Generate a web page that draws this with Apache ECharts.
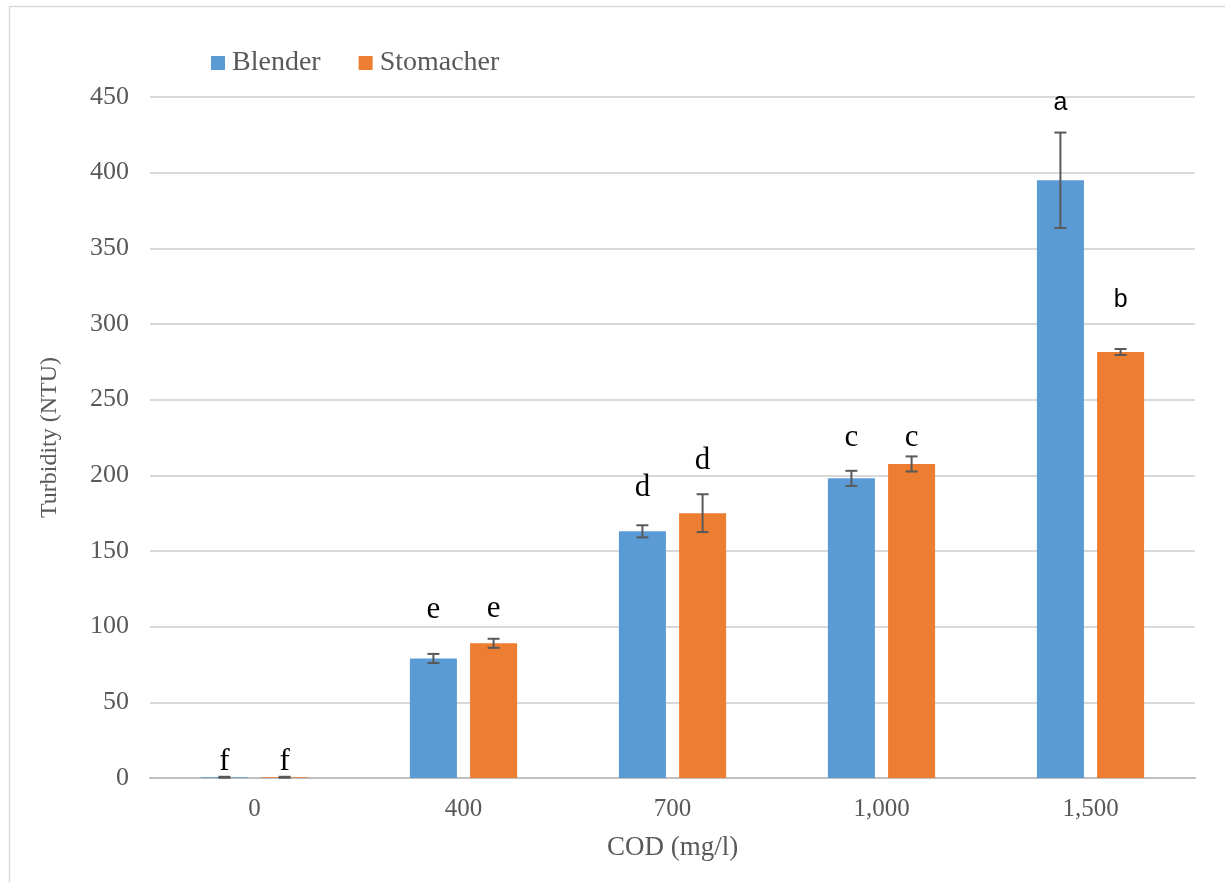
<!DOCTYPE html>
<html><head><meta charset="utf-8">
<script src="https://cdn.jsdelivr.net/npm/echarts@6/dist/echarts.min.js"></script>
<style>html,body{margin:0;padding:0;background:#fff}#c{width:1225px;height:882px}</style>
</head><body><div id="c"></div>
<script>
const categories = ['0', '400', '700', '1,000', '1,500'];
const blender = [0.5, 79, 163, 198, 395];
const stomacher = [0.5, 89, 175, 207.5, 281.5];
const blenderErr = [0.3, 3, 4, 5, 31.5];
const stomacherErr = [0.3, 3, 12.5, 5, 2];
const blenderLetters = ['f', 'e', 'd', 'c', 'a'];
const stomacherLetters = ['f', 'e', 'd', 'c', 'b'];
const blenderLetterY = [10.6, 111, 191.6, 225, 446];
const stomacherLetterY = [10.6, 111.7, 209.5, 225, 316];
const sansLetters = ['a', 'b'];
const yTicks = [0, 50, 100, 150, 200, 250, 300, 350, 400, 450];

const BW = 0.225, GAP = 0.28;
function errSeries(vals, errs, letters, letterY, sign) {
  return {
    type: 'custom', z: 10, silent: true,
    data: vals.map((v, i) => [i, v, errs[i], letters[i], letterY[i]]),
    renderItem: function (params, api) {
      const i = api.value(0), v = api.value(1), e = api.value(2);
      const band = api.size([1, 0])[0];
      const off = sign * band * BW * (1 + GAP) / 2;
      const top = api.coord([i, v + e]), bot = api.coord([i, v - e]);
      const x = top[0] + off;
      const cap = 6;
      const st = { stroke: '#595959', lineWidth: 2 };
      const letter = letters[i];
      const ly = api.coord([i, letterY[i]])[1];
      const isSans = sansLetters.indexOf(letter) >= 0;
      return {
        type: 'group', children: [
          { type: 'line', shape: { x1: x, y1: top[1], x2: x, y2: bot[1] }, style: st },
          { type: 'line', shape: { x1: x - cap, y1: top[1], x2: x + cap, y2: top[1] }, style: st },
          { type: 'line', shape: { x1: x - cap, y1: bot[1], x2: x + cap, y2: bot[1] }, style: st },
          { type: 'text', x: x, y: ly, style: {
              text: letter, fill: '#000', align: 'center', verticalAlign: 'middle',
              font: isSans ? '25px "Liberation Sans", Arial, sans-serif' : '31px "Liberation Serif", "Times New Roman", serif'
          } }
        ]
      };
    }
  };
}

const chart = echarts.init(document.getElementById('c'));
chart.setOption({
  animation: false,
  backgroundColor: '#fff',
  graphic: [{ type: 'rect', shape: { x: 9.5, y: 6.5, width: 1240, height: 900 }, style: { fill: 'none', stroke: '#d9d9d9', lineWidth: 1.5 }, z: -1 }],
  grid: { left: 150, right: 30, top: 97, bottom: 104 },
  legend: {
    left: 206, top: 44, itemWidth: 14, itemHeight: 14, itemGap: 38,
    icon: 'rect',
    textStyle: { fontFamily: '"Liberation Serif", serif', fontSize: 28, color: '#595959', padding: [0, 0, 0, 2] },
    data: ['Blender', 'Stomacher']
  },
  xAxis: {
    type: 'category', data: categories,
    name: 'COD (mg/l)', nameLocation: 'middle', nameGap: 56,
    nameTextStyle: { fontFamily: '"Liberation Serif", serif', fontSize: 27, color: '#595959' },
    axisLine: { lineStyle: { color: '#bfbfbf', width: 2 } },
    axisTick: { show: false },
    axisLabel: { fontFamily: '"Liberation Serif", serif', fontSize: 25, color: '#595959', margin: 19 }
  },
  yAxis: {
    type: 'value', min: 0, max: 450, interval: 50,
    name: 'Turbidity (NTU)', nameLocation: 'middle', nameGap: 88, nameRotate: 90,
    nameTextStyle: { fontFamily: '"Liberation Serif", serif', fontSize: 24, color: '#595959' },
    axisLine: { show: false }, axisTick: { show: false },
    splitLine: { lineStyle: { color: '#d9d9d9', width: 2 } },
    axisLabel: { fontFamily: '"Liberation Serif", serif', fontSize: 26, color: '#595959', margin: 21,
      formatter: v => yTicks.indexOf(v) >= 0 ? String(v) : '' }
  },
  series: [
    { name: 'Blender', type: 'bar', data: blender, barWidth: (BW * 100) + '%', barGap: (GAP * 100) + '%', itemStyle: { color: '#5b9bd5' } },
    { name: 'Stomacher', type: 'bar', data: stomacher, barWidth: (BW * 100) + '%', barGap: (GAP * 100) + '%', itemStyle: { color: '#ed7d31' } },
    errSeries(blender, blenderErr, blenderLetters, blenderLetterY, -1),
    errSeries(stomacher, stomacherErr, stomacherLetters, stomacherLetterY, 1)
  ]
});
</script></body></html>
